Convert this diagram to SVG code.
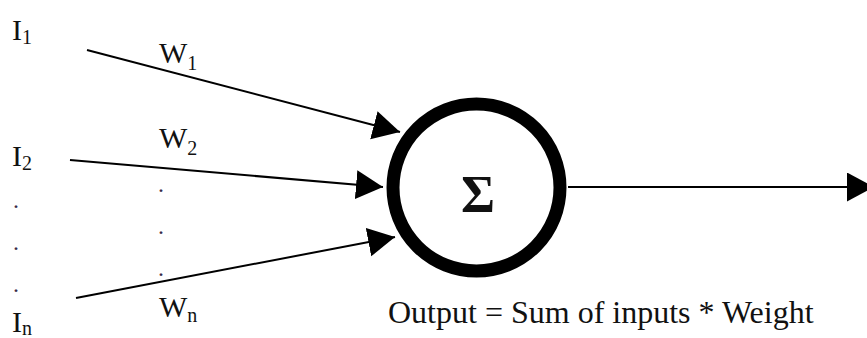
<svg xmlns="http://www.w3.org/2000/svg" width="867" height="338" viewBox="0 0 867 338">
<style>
.t{font-family:"Liberation Serif","Times New Roman",serif;fill:#111;}
.lbl{font-size:30px;}
.sub{font-size:20px;}
.dot{font-family:"Liberation Serif",serif;font-size:24px;fill:#3a2a4a;}
.edge{stroke:#000;stroke-width:2;fill:none;marker-end:url(#ah);}
</style>
<defs>
<marker id="ah" markerUnits="userSpaceOnUse" markerWidth="30" markerHeight="30" refX="27" refY="14.5" orient="auto">
<path d="M0,0 L27,14.5 L0,29 Z" fill="#000"/>
</marker>
</defs>
<rect width="867" height="338" fill="#fff"/>
<g id="connectors">
<line class="edge" x1="87" y1="50" x2="400" y2="132"/>
<line class="edge" x1="70" y1="160" x2="383" y2="187"/>
<line class="edge" x1="76" y1="298" x2="395" y2="237"/>
<line class="edge" x1="568" y1="187" x2="874" y2="187"/>
</g>
<g id="input1"><text class="t lbl" x="12" y="40">I<tspan class="sub" dy="4">1</tspan></text></g>
<g id="input2"><text class="t lbl" x="12" y="166">I<tspan class="sub" dy="4">2</tspan></text></g>
<g id="inputn"><text class="t lbl" x="12" y="332">I<tspan class="sub" dy="3">n</tspan></text></g>
<g id="input-dots">
<text class="dot" x="13" y="208">.</text>
<text class="dot" x="13" y="250">.</text>
<text class="dot" x="13" y="292">.</text>
</g>
<g id="weight1"><text class="t lbl" x="159" y="63">W<tspan class="sub" dy="7">1</tspan></text></g>
<g id="weight2"><text class="t lbl" x="159" y="148">W<tspan class="sub" dy="7">2</tspan></text></g>
<g id="weightn"><text class="t lbl" x="159" y="317">W<tspan class="sub" dy="5">n</tspan></text></g>
<g id="weight-dots">
<text class="dot" x="158" y="192">.</text>
<text class="dot" x="158" y="234">.</text>
<text class="dot" x="158" y="276">.</text>
</g>
<g id="sum">
<circle cx="476.5" cy="187.5" r="83.5" fill="#fff" stroke="#000" stroke-width="13"/>
<text class="t" x="478" y="212" font-size="52" font-weight="bold" text-anchor="middle">Σ</text>
</g>
<g id="caption"><text class="t" x="388" y="323" font-size="32">Output = Sum of inputs * Weight</text></g>
</svg>
